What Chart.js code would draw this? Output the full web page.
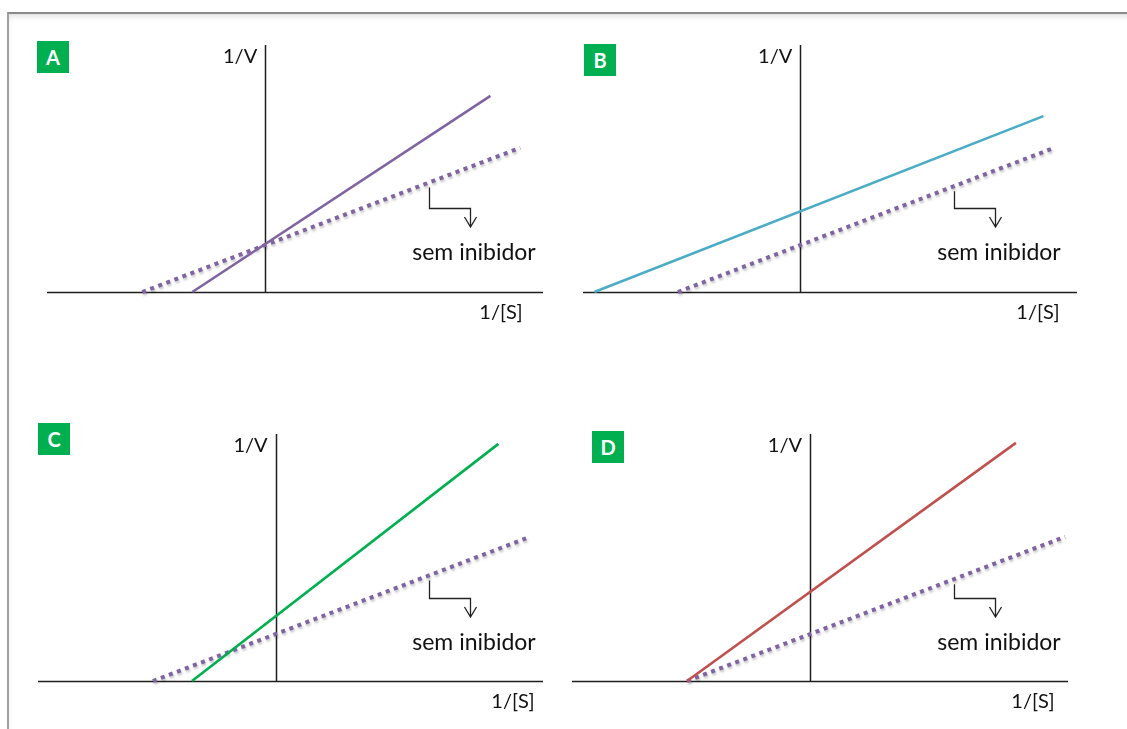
<!DOCTYPE html>
<html>
<head>
<meta charset="utf-8">
<script src="https://cdn.jsdelivr.net/npm/chart.js@4.4.1/dist/chart.umd.min.js"></script>
<style>
  html, body { margin: 0; padding: 0; background: #fff; width: 1127px; height: 729px; overflow: hidden; font-family: Lato, "Open Sans", sans-serif; }
  #frame { position: absolute; left: 7px; top: 12px; width: 1200px; height: 800px;
           border-top: 2px solid #8a8a8a; border-left: 2px solid #a0a0a0;
           box-shadow: inset 1px 5px 6px -3px rgba(0,0,0,0.14); }
  canvas { position: absolute; }
  .badge { position: absolute; width: 32px; height: 32px; background: #00b050; color: #fff;
           font: bold 20px Lato, sans-serif; display: flex; align-items: center; justify-content: center; }
</style>
</head>
<body>
<div id="frame"></div>
<script>
// Panel letters and text
const panelLetters = ['A', 'B', 'C', 'D'];
const labelY = '1/V';
const labelX = '1/[S]';
const noteText = 'sem inibidor';

// Lineweaver-Burk line without inhibitor (same in every panel): [1/[S], 1/V] end points
const semInibidorX = [-2.48, 5.14];
const semInibidorY = [0, 2.92];

// Line with inhibitor, one per panel
const inibidorAX = [-1.47, 4.54];
const inibidorAY = [0, 3.97];
const inibidorBX = [-4.17, 4.92];
const inibidorBY = [0, 3.56];
const inibidorCX = [-1.69, 4.50];
const inibidorCY = [0, 4.80];
const inibidorDX = [-2.48, 4.15];
const inibidorDY = [0, 4.82];

// Axis ranges of each panel
const xRangeA = [-4.4, 5.6];
const xRangeB = [-4.4, 5.6];
const xRangeC = [-4.8, 5.4];
const xRangeD = [-4.8, 5.2];
const yRange = [0, 5];

const toPoints = (xs, ys) => xs.map((x, i) => ({ x: x, y: ys[i] }));

const panels = [
  { letter: panelLetters[0], xRange: xRangeA, inhX: inibidorAX, inhY: inibidorAY, color: '#8064a2',
    canvas: { left: 10, top: 16, width: 553, height: 354 }, area: { left: 47, top: 45, right: 543, bottom: 292 },
    badge: { left: 37, top: 41 }, sLabelX: 501, note: { x: 474, base: 260 } },
  { letter: panelLetters[1], xRange: xRangeB, inhX: inibidorBX, inhY: inibidorBY, color: '#4bacc6',
    canvas: { left: 563, top: 16, width: 564, height: 354 }, area: { left: 583, top: 45, right: 1077, bottom: 292 },
    badge: { left: 584, top: 44 }, sLabelX: 1038, note: { x: 999, base: 260 } },
  { letter: panelLetters[2], xRange: xRangeC, inhX: inibidorCX, inhY: inibidorCY, color: '#00b050',
    canvas: { left: 10, top: 370, width: 553, height: 359 }, area: { left: 38, top: 434, right: 543, bottom: 681 },
    badge: { left: 38, top: 423 }, sLabelX: 513, note: { x: 474, base: 650 } },
  { letter: panelLetters[3], xRange: xRangeD, inhX: inibidorDX, inhY: inibidorDY, color: '#c0504d',
    canvas: { left: 563, top: 370, width: 564, height: 359 }, area: { left: 572, top: 434, right: 1068, bottom: 681 },
    badge: { left: 592, top: 431 }, sLabelX: 1033, note: { x: 999, base: 650 } }
];

// Soft shadow under the dotted reference line
const shadowPlugin = {
  id: 'lineShadow',
  beforeDatasetDraw(chart, args) {
    const ds = chart.data.datasets[args.index];
    if (!ds.shadow) return;
    const ctx = chart.ctx;
    ctx.save();
    ctx.shadowColor = 'rgba(0,0,0,0.25)';
    ctx.shadowBlur = 2.5;
    ctx.shadowOffsetX = 1;
    ctx.shadowOffsetY = 2;
  },
  afterDatasetDraw(chart, args) {
    const ds = chart.data.datasets[args.index];
    if (!ds.shadow) return;
    chart.ctx.restore();
  }
};

// Axes crossing at the origin, axis titles, and the note with its bent arrow
const axesPlugin = {
  id: 'lbAxes',
  beforeDatasetsDraw(chart) {
    const { ctx, chartArea: a, scales: { x, y } } = chart;
    const x0 = Math.round(x.getPixelForValue(0)) + 0.5;
    const y0 = Math.round(y.getPixelForValue(0)) + 0.5;
    ctx.save();
    ctx.strokeStyle = '#1e1e1e';
    ctx.lineWidth = 1.5;
    ctx.beginPath();
    ctx.moveTo(x0, a.top);
    ctx.lineTo(x0, y0);
    ctx.moveTo(a.left, y0);
    ctx.lineTo(a.right, y0);
    ctx.stroke();
    ctx.restore();
  },
  afterDraw(chart, args, opts) {
    const { ctx, chartArea: a, scales: { x, y } } = chart;
    const p = opts.panel;
    const off = p.canvas;
    const x0 = x.getPixelForValue(0);
    const y0 = y.getPixelForValue(0);
    ctx.save();
    ctx.fillStyle = '#111';
    ctx.font = '20px Lato, sans-serif';
    ctx.textBaseline = 'alphabetic';
    ctx.textAlign = 'right';
    ctx.fillText(labelY, x0 - 8, a.top + 18);
    ctx.textAlign = 'center';
    ctx.fillText(labelX, p.sLabelX - off.left, y0 + 27);

    // note text
    const nx = p.note.x - off.left;
    const nb = p.note.base - off.top;
    ctx.font = '23px Lato, sans-serif';
    ctx.fillText(noteText, nx, nb);

    // bent arrow from the dotted line down to the note
    const bx1 = nx - 45;
    const bx2 = nx - 4;
    const vx = x.getValueForPixel(bx1);
    const t = (vx - semInibidorX[0]) / (semInibidorX[1] - semInibidorX[0]);
    const vy = semInibidorY[0] + t * (semInibidorY[1] - semInibidorY[0]);
    const startY = y.getPixelForValue(vy) + 5;
    const bendY = nb - 52;
    const endY = nb - 33;
    ctx.strokeStyle = '#222';
    ctx.lineWidth = 1.3;
    ctx.beginPath();
    ctx.moveTo(Math.round(bx1) + 0.5, startY);
    ctx.lineTo(Math.round(bx1) + 0.5, Math.round(bendY) + 0.5);
    ctx.lineTo(Math.round(bx2) + 0.5, Math.round(bendY) + 0.5);
    ctx.lineTo(Math.round(bx2) + 0.5, endY);
    ctx.moveTo(Math.round(bx2) + 0.5 - 6, endY - 10);
    ctx.lineTo(Math.round(bx2) + 0.5, endY);
    ctx.lineTo(Math.round(bx2) + 0.5 + 6, endY - 10);
    ctx.stroke();
    ctx.restore();
  }
};

panels.forEach(p => {
  const cv = document.createElement('canvas');
  cv.width = p.canvas.width;
  cv.height = p.canvas.height;
  cv.style.left = p.canvas.left + 'px';
  cv.style.top = p.canvas.top + 'px';
  cv.style.width = p.canvas.width + 'px';
  cv.style.height = p.canvas.height + 'px';
  document.body.appendChild(cv);

  const badge = document.createElement('div');
  badge.className = 'badge';
  badge.style.left = p.badge.left + 'px';
  badge.style.top = p.badge.top + 'px';
  badge.textContent = p.letter;
  document.body.appendChild(badge);

  new Chart(cv, {
    type: 'line',
    data: {
      datasets: [
        { label: 'com inibidor', data: toPoints(p.inhX, p.inhY), borderColor: p.color, borderWidth: 2.6,
          pointRadius: 0, borderCapStyle: 'butt', tension: 0, clip: false },
        { label: noteText, data: toPoints(semInibidorX, semInibidorY), borderColor: '#8064a2', borderWidth: 4,
          borderDash: [4, 4.6], borderCapStyle: 'butt', pointRadius: 0, tension: 0, clip: false, shadow: true }
      ]
    },
    options: {
      responsive: false,
      animation: false,
      devicePixelRatio: 1,
      layout: { padding: {
        left: p.area.left - p.canvas.left,
        top: p.area.top - p.canvas.top,
        right: p.canvas.left + p.canvas.width - p.area.right,
        bottom: p.canvas.top + p.canvas.height - p.area.bottom
      } },
      scales: {
        x: { type: 'linear', min: p.xRange[0], max: p.xRange[1], display: false },
        y: { type: 'linear', min: yRange[0], max: yRange[1], display: false }
      },
      plugins: {
        legend: { display: false },
        tooltip: { enabled: false },
        lbAxes: { panel: p }
      }
    },
    plugins: [shadowPlugin, axesPlugin]
  });
});
</script>
</body>
</html>
